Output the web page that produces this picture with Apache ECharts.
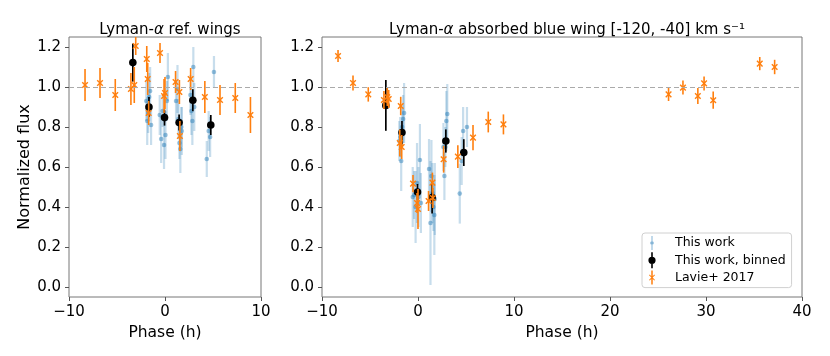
<!DOCTYPE html>
<html>
<head>
<meta charset="utf-8">
<script src="https://cdn.jsdelivr.net/npm/echarts@6/dist/echarts.min.js"></script>
<style>
  html, body { margin: 0; padding: 0; background: #fff; }
  #chart { width: 830px; height: 356px; }
</style>
</head>
<body>
<div id="chart"></div>
<script>
// "This work" single exposures
const bluePhase = [-1.95, -1.85, -1.75, -1.65, -1.55, -1.45,
  -0.55, -0.4, -0.25, -0.1, 0.05, 0.2, 0.3,
  1.15, 1.3, 1.4, 1.5, 1.6, 1.7, 1.75,
  2.65, 2.75, 2.85, 2.95, 3.05,
  4.35, 4.55, 4.7, 5.1];
const blueRef = [0.93, 0.83, 0.87, 0.95, 0.98, 0.81,
  0.86, 0.74, 0.88, 0.71, 0.76, 0.93, 1.05,
  0.93, 0.99, 0.84, 0.72, 0.69, 0.80, 0.78,
  0.96, 0.88, 0.83, 1.10, 0.90,
  0.64, 0.78, 0.75, 1.075];
const blueRefErr = [0.10, 0.12, 0.10, 0.12, 0.12, 0.10,
  0.10, 0.12, 0.08, 0.12, 0.12, 0.10, 0.12,
  0.10, 0.12, 0.10, 0.08, 0.12, 0.10, 0.12,
  0.10, 0.12, 0.12, 0.10, 0.12,
  0.09, 0.10, 0.10, 0.08];
const blueWing = [0.73, 0.75, 0.63, 0.80, 0.84, 0.87,
  0.45, 0.46, 0.40, 0.52, 0.45, 0.635, 0.42,
  0.59, 0.32, 0.555, 0.47, 0.40, 0.36, 0.44,
  0.70, 0.555, 0.70, 0.83, 0.865,
  0.467, 0.63, 0.78, 0.80];
const blueWingErr = [0.10, 0.10, 0.15, 0.10, 0.12, 0.15,
  0.15, 0.12, 0.18, 0.20, 0.15, 0.18, 0.15,
  0.15, 0.31, 0.18, 0.15, 0.12, 0.20, 0.18,
  0.12, 0.12, 0.10, 0.15, 0.15,
  0.15, 0.12, 0.12, 0.10];

// "This work, binned"
const binPhase = [-3.35, -1.67, -0.05, 1.47, 2.9, 4.77];
const binRef = [1.122, 0.90, 0.847, 0.822, 0.934, 0.81];
const binRefErr = [0.095, 0.05, 0.04, 0.04, 0.055, 0.05];
const binWing = [0.908, 0.772, 0.475, 0.447, 0.73, 0.672];
const binWingErr = [0.127, 0.058, 0.04, 0.08, 0.058, 0.067];

// Lavie+ 2017
const lavPhase = [-8.33, -6.77, -5.18, -3.55, -3.2, -3.05, -1.9, -1.8, -1.7, -0.52,
  -0.1, 0.0, 1.1, 1.5, 1.55, 2.67, 4.15, 5.73, 7.32, 8.9,
  26.1, 27.6, 29.15, 29.8, 30.75, 35.6, 37.15];
const lavRef = [1.01, 1.02, 0.96, 0.99, 1.01, 1.205, 1.14, 1.04, 0.87, 1.17,
  0.955, 0.97, 1.025, 0.975, 0.755, 1.04, 0.95, 0.935, 0.945, 0.86,
  null, null, null, null, null, null, null];
const lavRefErr = [0.08, 0.075, 0.08, 0.08, 0.09, 0.045, 0.065, 0.08, 0.06, 0.05,
  0.085, 0.08, 0.055, 0.06, 0.075, 0.055, 0.08, 0.075, 0.075, 0.09,
  null, null, null, null, null, null, null];
const lavWing = [1.155, 1.02, 0.963, 0.935, 0.95, 0.94, 0.72, 0.905, 0.70, 0.517,
  0.42, 0.39, 0.43, 0.522, 0.445, 0.639, 0.652, 0.747, 0.825, 0.813,
  0.963, 0.997, 0.955, 1.018, 0.934, 1.117, 1.10];
const lavWingErr = [0.03, 0.037, 0.036, 0.045, 0.045, 0.045, 0.067, 0.046, 0.06, 0.043,
  0.05, 0.1, 0.05, 0.05, 0.05, 0.067, 0.057, 0.063, 0.052, 0.05,
  0.033, 0.035, 0.04, 0.035, 0.043, 0.033, 0.036];

const yTicks = [0, 0.2, 0.4, 0.6, 0.8, 1.0, 1.2];

const FONT = 'DejaVu Sans';
const ORANGE = '#ff7f0e';

function rows(xs, ys, es) {
  const out = [];
  xs.forEach((x, i) => {
    if (ys[i] != null) out.push([x, ys[i], es[i]]);
  });
  return out;
}

function errorBars(kind) {
  return function (params, api) {
    const x = api.value(0), y = api.value(1), e = api.value(2);
    const p = api.coord([x, y]);
    const hi = api.coord([x, y + e]);
    const lo = api.coord([x, y - e]);
    const kids = [];
    if (kind === 'blue') {
      kids.push({ type: 'line', shape: { x1: p[0], y1: hi[1], x2: p[0], y2: lo[1] },
        style: { stroke: 'rgba(31,119,180,0.25)', lineWidth: 2.2 } });
      kids.push({ type: 'circle', shape: { cx: p[0], cy: p[1], r: 2.3 },
        style: { fill: 'rgba(31,119,180,0.45)' } });
    } else if (kind === 'black') {
      kids.push({ type: 'line', shape: { x1: p[0], y1: hi[1], x2: p[0], y2: lo[1] },
        style: { stroke: '#000', lineWidth: 1.7 } });
      kids.push({ type: 'circle', shape: { cx: p[0], cy: p[1], r: 3.8 },
        style: { fill: '#000' } });
    } else {
      const s = 2.8;
      kids.push({ type: 'line', shape: { x1: p[0], y1: hi[1], x2: p[0], y2: lo[1] },
        style: { stroke: ORANGE, lineWidth: 1.6 } });
      kids.push({ type: 'line', shape: { x1: p[0] - s, y1: p[1] - s, x2: p[0] + s, y2: p[1] + s },
        style: { stroke: ORANGE, lineWidth: 1.4 } });
      kids.push({ type: 'line', shape: { x1: p[0] - s, y1: p[1] + s, x2: p[0] + s, y2: p[1] - s },
        style: { stroke: ORANGE, lineWidth: 1.4 } });
    }
    return { type: 'group', children: kids };
  };
}

const refLine = {
  silent: true,
  symbol: 'none',
  label: { show: false },
  lineStyle: { color: '#aaaaaa', type: [5, 3], width: 1.2 },
  data: [{ yAxis: 1 }]
};

function panelSeries(idx, blue, blueErr, bin, binErr, lav, lavErr) {
  return [
    {
      name: 'This work', type: 'custom', xAxisIndex: idx, yAxisIndex: idx, clip: true,
      itemStyle: { color: 'rgba(31,119,180,0.55)' },
      renderItem: errorBars('blue'),
      data: rows(bluePhase, blue, blueErr),
      markLine: refLine, z: 2
    },
    {
      name: 'This work, binned', type: 'custom', xAxisIndex: idx, yAxisIndex: idx, clip: true,
      itemStyle: { color: '#000' },
      renderItem: errorBars('black'),
      data: rows(binPhase, bin, binErr), z: 3
    },
    {
      name: 'Lavie+ 2017', type: 'custom', xAxisIndex: idx, yAxisIndex: idx, clip: true,
      itemStyle: { color: ORANGE },
      renderItem: errorBars('orange'),
      data: rows(lavPhase, lav, lavErr), z: 4
    }
  ];
}

const minus = v => (v < 0 ? '\u2212' + Math.abs(v) : String(v));

function xAxis(idx, max) {
  return {
    type: 'value', gridIndex: idx, min: -10, max: max, interval: 10,
    name: 'Phase (h)', nameLocation: 'middle', nameGap: 22,
    nameTextStyle: { fontFamily: FONT, fontSize: 15.5, color: '#000' },
    axisLine: { show: false, onZero: false },
    axisTick: { show: true, length: 4, lineStyle: { color: '#555' } },
    axisLabel: { fontFamily: FONT, fontSize: 15, color: '#000', margin: 8, formatter: minus },
    splitLine: { show: false }
  };
}

function yAxis(idx, withName) {
  return {
    type: 'value', gridIndex: idx, min: -0.05, max: 1.25,
    name: withName ? 'Normalized flux' : '', nameLocation: 'middle', nameGap: 34,
    nameTextStyle: { fontFamily: FONT, fontSize: 16, color: '#000' },
    axisLine: { show: false, onZero: false },
    axisTick: { show: true, length: 4, customValues: yTicks, lineStyle: { color: '#555' } },
    axisLabel: { fontFamily: FONT, fontSize: 15, color: '#000', margin: 8,
      customValues: yTicks, formatter: v => v.toFixed(1) },
    splitLine: { show: false }
  };
}

const iconBlue = 'path://M0,8h.01v.01h-.01z M19.99,8h.01v.01h-.01z M9.5,1h1v14h-1z M8.2,8a1.8,1.8 0 1 1 3.6,0a1.8,1.8 0 1 1 -3.6,0z';
const iconBlack = 'path://M0,8h.01v.01h-.01z M19.99,8h.01v.01h-.01z M9.2,0h1.6v16h-1.6z M6.4,8a3.6,3.6 0 1 1 7.2,0a3.6,3.6 0 1 1 -7.2,0z';
const iconOrange = 'path://M0,8h.01v.01h-.01z M19.99,8h.01v.01h-.01z M9.25,1h1.5v14h-1.5z M7,5.7L7.7,5L10,7.3L12.3,5L13,5.7L10.7,8L13,10.3L12.3,11L10,8.7L7.7,11L7,10.3L9.3,8z';

const titleRich = {
  n: { fontFamily: FONT, fontSize: 15, fontWeight: 'normal', color: '#000' },
  i: { fontFamily: FONT, fontSize: 15, fontWeight: 'normal', color: '#000', fontStyle: 'italic' }
};

const option = {
  animation: false,
  backgroundColor: '#fff',
  textStyle: { fontFamily: FONT },
  title: [
    {
      text: '{n|Lyman-}{i|\u03b1}{n| ref. wings}',
      left: 165, top: 18, textAlign: 'center',
      textStyle: { fontWeight: 'normal', rich: titleRich }
    },
    {
      text: '{n|Lyman-}{i|\u03b1}{n| absorbed blue wing [-120, -40] km s\u207b\u00b9}',
      left: 562, top: 18, textAlign: 'center',
      textStyle: { fontWeight: 'normal', rich: titleRich }
    }
  ],
  legend: {
    orient: 'vertical',
    left: 642, top: 233,
    padding: [3, 6, 3, 0],
    itemWidth: 20, itemHeight: 16, itemGap: 2.3,
    backgroundColor: 'rgba(255,255,255,0.85)',
    borderColor: '#d0d0d0', borderWidth: 1, borderRadius: 3,
    textStyle: { fontFamily: FONT, fontSize: 12.5, color: '#000', padding: [0, 0, 0, 8] },
    data: [
      { name: 'This work', icon: iconBlue },
      { name: 'This work, binned', icon: iconBlack },
      { name: 'Lavie+ 2017', icon: iconOrange }
    ]
  },
  grid: [
    { left: 69, top: 37, width: 192, height: 260, show: true, borderColor: '#777', borderWidth: 1, backgroundColor: 'transparent' },
    { left: 322, top: 37, width: 480, height: 260, show: true, borderColor: '#777', borderWidth: 1, backgroundColor: 'transparent' }
  ],
  xAxis: [xAxis(0, 10), xAxis(1, 40)],
  yAxis: [yAxis(0, true), yAxis(1, false)],
  series: [
    ...panelSeries(0, blueRef, blueRefErr, binRef, binRefErr, lavRef, lavRefErr),
    ...panelSeries(1, blueWing, blueWingErr, binWing, binWingErr, lavWing, lavWingErr)
  ]
};

const chart = echarts.init(document.getElementById('chart'));
chart.setOption(option);
</script>
</body>
</html>
